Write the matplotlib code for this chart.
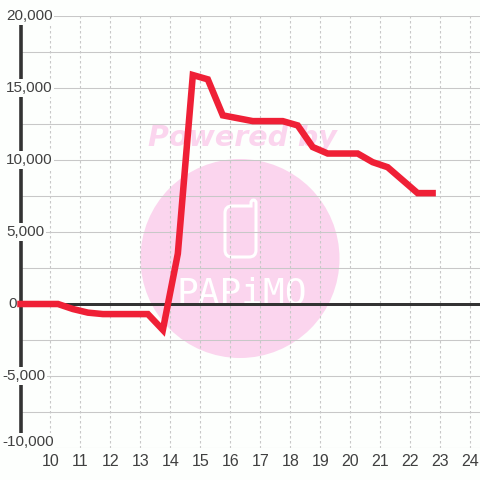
import matplotlib
matplotlib.use('Agg')
import matplotlib.pyplot as plt
from matplotlib.patches import PathPatch
from matplotlib.path import Path

# gio trong ngay va gia tri
hours = [9, 9.25, 9.75, 10.25, 10.75, 11.25, 11.75, 12.25, 12.75, 13.25, 13.75, 14.25, 14.75, 15.25,
         15.75, 16.25, 16.75, 17.25, 17.75, 18.25, 18.75, 19.25, 19.75, 20.25, 20.75, 21.25, 21.75,
         22.25, 22.75]
values = [0, 0, 0, 0, -350, -600, -700, -700, -700, -700, -1800, 3500, 15900, 15600,
          13100, 12900, 12700, 12700, 12700, 12400, 10900, 10450, 10450, 10450, 9850, 9500, 8600,
          7700, 7700]
x_ticks = list(range(10, 25))
y_ticks = [-10000, -5000, 0, 5000, 10000, 15000, 20000]
y_minor = [-7500, -2500, 2500, 7500, 12500, 17500]

plt.rcParams['font.family'] = ['Liberation Sans', 'DejaVu Sans']

bg = '#fdfffd'
pink = '#fbd5ee'
grid = '#c8c8c8'
dark = '#333333'
label = '#404040'


def px(x, y):
    return x / 480, 1 - y / 480


fig = plt.figure(figsize=(4.8, 4.8), dpi=100, facecolor=bg)
# truc: x=9 o px 20.5, y=20000 o px 16, y=-10000 o px 448
ax = fig.add_axes([20.5 / 480, 32 / 480, 459.5 / 480, 432 / 480])
ax.patch.set_alpha(0)
ax.set_xlim(9, 9 + 459.5 / 29.97)
ax.set_ylim(-10000, 20000)
for s in ax.spines.values():
    s.set_visible(False)
ax.tick_params(length=0)

# hinh mo phia sau
fig.add_artist(plt.Circle(px(240, 258.5), 99.5 / 480, color=pink, lw=0, zorder=-5,
                          transform=fig.transFigure))
fig.text(*px(242, 146), 'Powered by', color=pink, fontsize=20.5, fontweight='bold',
         fontstyle='italic', family='DejaVu Sans', ha='center', va='baseline', zorder=-4)
phone = [px(232, 206), px(225, 206), px(225, 213), px(225, 250), px(225, 257), px(232, 257),
         px(249, 257), px(256, 257), px(256, 250), px(256, 203), px(256, 200), px(253.5, 200),
         px(251, 200), px(251, 203), px(251, 206), px(248, 206), px(232, 206)]
codes = [Path.MOVETO, Path.CURVE3, Path.CURVE3, Path.LINETO, Path.CURVE3, Path.CURVE3,
         Path.LINETO, Path.CURVE3, Path.CURVE3, Path.LINETO, Path.CURVE3, Path.CURVE3,
         Path.CURVE3, Path.CURVE3, Path.LINETO, Path.LINETO, Path.LINETO]
fig.add_artist(PathPatch(Path(phone, codes), fc='none', ec='white', lw=2.2,
                         transform=fig.transFigure, zorder=-4))
fig.text(*px(242, 303), 'PAPiMO', color='white', fontsize=26, family='DejaVu Sans Mono',
         ha='center', va='baseline', zorder=-4)

for v in y_ticks + y_minor:
    ax.axhline(v, color=grid, lw=0.75, zorder=1)
for v in x_ticks:
    ax.plot([v, v], [-10000, 20000], color=grid, lw=0.8, ls=(0, (2.25, 2.25)), zorder=1)
ax.axhline(0, color=dark, lw=2.16, zorder=2)
ax.plot([9, 9], [-9300, 19450], color=dark, lw=2.6, zorder=2, solid_capstyle='butt', clip_on=False)

ax.set_xticks(x_ticks)
ax.set_xticklabels([str(v) for v in x_ticks], fontsize=11.5, color=label)
ax.tick_params(axis='x', pad=4)
ax.set_yticks([])

# nhan truc y canh trai, nen trang che truc va luoi
for v in y_ticks:
    left = 8 if v == 0 else (2 if v < 0 else 6)
    dy = 6 if v == -10000 else 0
    ax.annotate(f'{v:,}', xy=(left, v), xycoords=('figure pixels', 'data'), xytext=(0, dy),
                textcoords='offset pixels', fontsize=11, color=label, ha='left', va='center',
                zorder=3, bbox=dict(fc=bg, ec='none', pad=1.2) if v != 0 else None)

ax.plot(hours, values, color='#ef2036', lw=4.7, zorder=5, solid_capstyle='projecting',
        solid_joinstyle='miter', clip_on=False)

fig.savefig('out.png', dpi=100, facecolor=fig.get_facecolor())
